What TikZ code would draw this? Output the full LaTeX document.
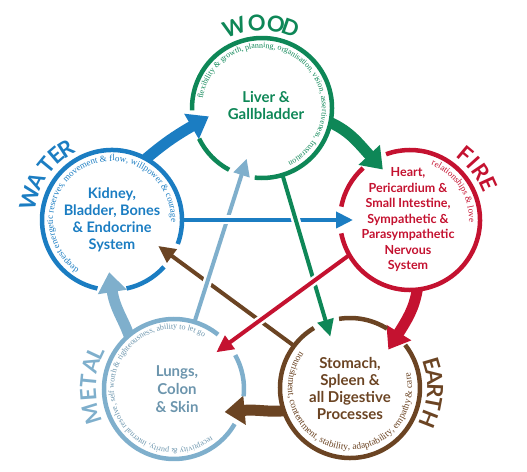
\documentclass[tikz,border=0pt]{standalone}
\usepackage{fontspec}
\setmainfont{Lato}
\newfontfamily\arcfont{Liberation Serif}
\usetikzlibrary{arrows.meta,decorations.text}
\definecolor{woodc}{HTML}{0E8757}
\definecolor{firec}{HTML}{C41230}
\definecolor{earthc}{HTML}{6B4423}
\definecolor{metalc}{HTML}{7FAFCC}
\definecolor{waterc}{HTML}{1B7DC2}

\begin{document}
\begin{tikzpicture}[x=1pt,y=1pt,
  elem/.style={circle, minimum size=140pt, inner sep=0pt, outer sep=0pt},
  organ/.style={align=center, font=\bfseries\fontsize{15}{17}\selectfont},
  ring/.style={line width=4.5pt},
  feed/.style={line width=11pt, -{Triangle[width=28pt,length=20pt]}},
  check/.style={line width=4pt, -{Triangle[width=16pt,length=17pt]},
    preaction={draw=white, line width=9pt, -}},
  elemname/.style={font=\bfseries\fontsize{22}{22}\selectfont, inner sep=0pt},
  arcnote/.style={decorate, decoration={text along path, text align=center}},
]
\useasboundingbox (0,0) rectangle (527,471);

% the five phases
\node[elem] (wood)  at (262,363) {};
\node[elem] (fire)  at (410,251) {};
\node[elem] (earth) at (350,83) {};
\node[elem] (metal) at (174,82) {};
\node[elem] (water) at (112,251) {};

% generating cycle
\draw[feed, waterc, shorten >=-17pt] (water.61) to[bend left=5] (wood.194);
\draw[feed, woodc, shorten >=-13pt] (wood.-12) to[out=-25,in=133] (fire.121);
\draw[feed, firec, shorten >=-16pt] (fire.-84) to[out=-100,in=58] (earth.48);
\draw[feed, earthc, shorten >=-16pt] (earth.199) to[out=185,in=5] (metal.-18);
\draw[feed, metalc, shorten >=-18pt] (metal.130) to[out=110,in=-81] (water.-90);

% controlling cycle
\draw[check, earthc, shorten >=-17pt] (earth.143) -- (water.-31);
\draw[check, metalc, shorten >=-17pt] (metal.73) -- (wood.253);
\draw[check, waterc, shorten >=-13pt] (water.0) -- (fire.180);
\draw[check, woodc, shorten >=-15pt] (wood.-73) -- (earth.110);
\draw[check, firec, shorten >=-14pt] (fire.210) -- (metal.40);

% rings, cut where the heads come in
\draw[ring, woodc] (wood.264) arc[start angle=264, end angle=542, radius=70];
\draw[ring, woodc] (wood.206) arc[start angle=206, end angle=242, radius=70];
\draw[ring, firec] (fire.191) arc[start angle=191, end angle=470, radius=70];
\draw[ring, firec] (fire.132) arc[start angle=132, end angle=169, radius=70];
\draw[ring, earthc] (earth.121) arc[start angle=121, end angle=398, radius=70];
\draw[ring, earthc] (earth.58) arc[start angle=58, end angle=99, radius=70];
\draw[ring, metalc] (metal.51) arc[start angle=51, end angle=330, radius=70];
\draw[ring, metalc] (metal.-6) arc[start angle=-6, end angle=29, radius=70];
\draw[ring, waterc] (water.340) arc[start angle=340, end angle=618, radius=70];
\draw[ring, waterc] (water.282) arc[start angle=282, end angle=318, radius=70];

% organs
\node[organ, woodc] (wood-txt) at ([shift={(4,2)}]wood.center) {Liver \&\\Gallbladder};
\node[organ, firec, font=\bfseries\fontsize{12.5}{15.5}\selectfont] (fire-txt) at ([shift={(-2,0)}]fire.center)
  {Heart,\\Pericardium \&\\Small Intestine,\\Sympathetic \&\\Parasympathetic\\Nervous\\System};
\node[organ, earthc] (earth-txt) at (earth.center) {Stomach,\\Spleen \&\\all Digestive\\Processes};
\node[organ, metalc!85!black, font=\bfseries\fontsize{15}{18}\selectfont] (metal-txt) at ([shift={(3,0)}]metal.center) {Lungs,\\Colon\\\& Skin};
\node[organ, waterc, font=\bfseries\fontsize{14.5}{17}\selectfont] (water-txt) at (water.center) {Kidney,\\Bladder, Bones\\\& Endocrine\\System};

% qualities round the inside of each ring
\path[arcnote, decoration={text color=woodc,
  text={|\arcfont\fontsize{8}{8}\selectfont|flexibility {\&} growth, planning, organisation, vision, assertiveness, frustration}}]
  ([shift={(224:60)}]wood.center) arc[start angle=224, end angle=-117, radius=60];
\path[arcnote, decoration={text color=firec,
  text={|\arcfont\fontsize{9}{9}\selectfont|relationships {\&} love}}]
  ([shift={(120:59)}]fire.center) arc[start angle=120, end angle=-53, radius=59];
\path[arcnote, decoration={text color=waterc,
  text={|\arcfont\fontsize{9}{9}\selectfont|deepest energetic reserves, movement {\&} flow, willpower {\&} courage}}]
  ([shift={(296:59)}]water.center) arc[start angle=296, end angle=-62, radius=59];
\path[arcnote, decoration={text color=metalc!85!black,
  text={|\arcfont\fontsize{8}{8}\selectfont|receptivity {\&} purity, internal resolve, self worth {\&} righteousness, ability to let go}}]
  ([shift={(354:60)}]metal.center) arc[start angle=354, end angle=14, radius=60];
\path[arcnote, decoration={text color=earthc,
  text={|\arcfont\fontsize{9.5}{9.5}\selectfont|nourishment, contentment, stability, adaptability, empathy {\&} care}}]
  ([shift={(90:62)}]earth.center) arc[start angle=90, end angle=428, radius=62];

% element names
\foreach \a/\l [count=\i] in {109/W,93.5/O,80.5/O,70.5/D}
  \node[elemname, woodc, rotate=\a-90] (wood-\i) at ([shift={(\a:85)}]wood.center) {\l};
\foreach \a/\l [count=\i] in {50/F,42/I,34/R,24.5/E}
  \node[elemname, firec, rotate=\a-90] (fire-\i) at ([shift={(\a:86)}]fire.center) {\l};
\foreach \a/\l [count=\i] in {16.3/E,7.5/A,-2/R,-10.8/T,-21.3/H}
  \node[elemname, earthc, rotate=\a-90] (earth-\i) at ([shift={(\a:85)}]earth.center) {\l};
\foreach \a/\l [count=\i] in {197/M,184/E,174.5/T,163.7/A,154.9/L}
  \node[elemname, metalc, rotate=\a-90] (metal-\i) at ([shift={(\a:86)}]metal.center) {\l};
\foreach \a/\l [count=\i] in {165/W,152.8/A,140.4/T,130.7/E,122.8/R}
  \node[elemname, waterc, rotate=\a-90] (water-\i) at ([shift={(\a:85)}]water.center) {\l};
\end{tikzpicture}
\end{document}
